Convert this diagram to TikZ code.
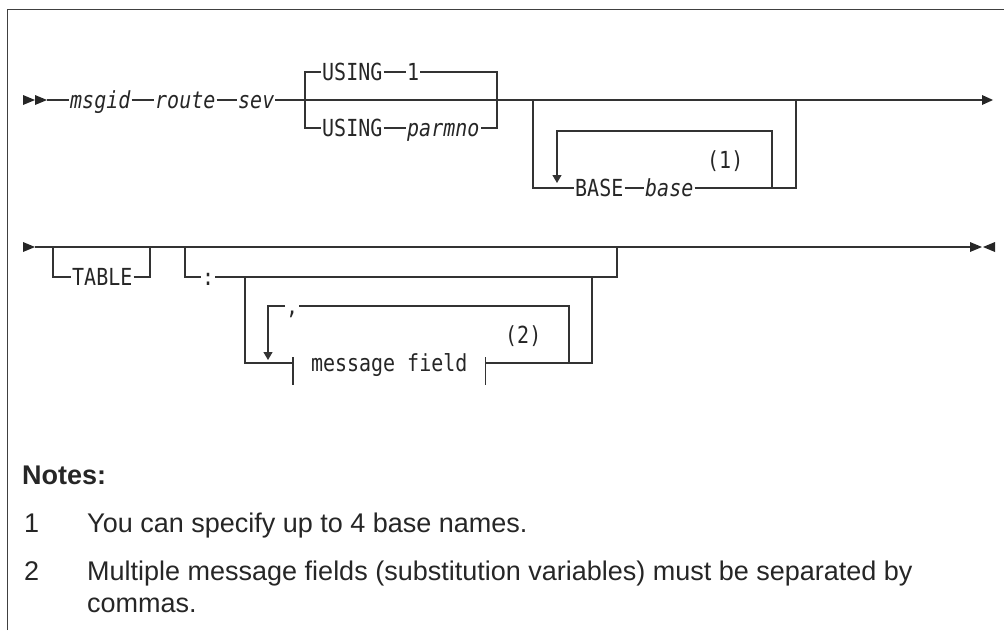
\documentclass[tikz,border=0pt]{standalone}
\usepackage{fontspec}
\setmainfont{Liberation Sans}
\setmonofont{DejaVu Sans Mono}[FakeStretch=0.85]
\usetikzlibrary{arrows.meta, positioning}

\begin{document}
\begin{tikzpicture}[x=1pt, y=-1pt, >={Triangle[length=8pt,width=9pt]}]
    \tikzset{
        rail/.style={line width=1.15pt, draw=black!80},
        tip/.style={fill=black!85},
        kw/.style={font=\ttfamily\fontsize{23.5}{23.5}\selectfont, text=black!85,
                   inner sep=1pt, text height=16.5pt, text depth=0pt, anchor=west},
        var/.style={kw, font=\ttfamily\itshape\fontsize{23.5}{23.5}\selectfont},
        note/.style={font=\fontsize{27}{32}\selectfont, text=black!85,
                     inner sep=0pt, anchor=base west}
    }
    \useasboundingbox (0,0) rectangle (1004,630);
    % frame (top and left only)
    \draw[line width=1pt, black!75] (7,630) -- (7,9) -- (1004,9);

    % first line
    \coordinate (s1) at (23,100);
    \coordinate (s1e) at (47,100);
    \coordinate (e1) at (982,100);
    \fill[tip] (s1) ++(0,-5) -- ++(12,5) -- ++(-12,5) -- cycle
               (s1) ++(12,-5) -- ++(12,5) -- ++(-12,5) -- cycle;
    \fill[tip] (e1) ++(0,-5) -- ++(11,5) -- ++(-11,5) -- cycle;
    \node[var] (msgid) at (69,100) {msgid};
    \node[var] (route) at (154,100) {route};
    \node[var] (sev) at (237,100) {sev};
    \draw[rail] (s1e) -- (msgid);
    \draw[rail] (msgid) -- (route);
    \draw[rail] (route) -- (sev);
    \draw[rail] (sev) -- (e1);

    % USING choice
    \coordinate (fork) at (305,100);
    \coordinate (join) at (497,100);
    \node[kw] (usingA) at (321,72) {USING};
    \node[kw] (one) at (406,72) {1};
    \node[kw] (usingB) at (321,128) {USING};
    \node[var] (parmno) at (406,128) {parmno};
    \draw[rail] (usingA.west) -| (fork) |- (usingB.west);
    \draw[rail] (usingA) -- (one);
    \draw[rail] (usingB) -- (parmno);
    \draw[rail] (one.east) -| (join) |- (parmno.east);

    % BASE, repeatable
    \coordinate (baseL) at (533,100);
    \coordinate (baseR) at (796,100);
    \coordinate (loopR) at (772,188);
    \coordinate (loopT) at (557,131);
    \coordinate (loopB) at (557,183);
    \node[kw] (basekw) at (574,188) {BASE};
    \node[var] (basevar) at (644,188) {base};
    \node[kw] (ref1) at (706,160) {(1)};
    \draw[rail] (baseL) |- (basekw.west);
    \draw[rail] (basekw) -- (basevar);
    \draw[rail] (basevar.east) -| (baseR);
    \draw[rail, ->] (loopR) |- (loopT) -- (loopB);

    % second line
    \coordinate (s2) at (23,247);
    \coordinate (s2e) at (35,247);
    \coordinate (e2) at (970,247);
    \fill[tip] (s2) ++(0,-5) -- ++(12,5) -- ++(-12,5) -- cycle;
    \fill[tip] (e2) ++(0,-5) -- ++(12,5) -- ++(-12,5) -- cycle
               (e2) ++(25,-5) -- ++(-12,5) -- ++(12,5) -- cycle;
    \draw[rail] (s2e) -- (e2);

    % TABLE
    \coordinate (tabL) at (53,247);
    \coordinate (tabR) at (150,247);
    \node[kw] (table) at (71,277) {TABLE};
    \draw[rail] (tabL) |- (table.west);
    \draw[rail] (table.east) -| (tabR);

    % colon and message fields
    \coordinate (colL) at (185,247);
    \coordinate (colR) at (617,247);
    \node[kw] (colon) at (201,277) {:};
    \draw[rail] (colL) |- (colon.west);
    \draw[rail] (colon.east) -| (colR);

    \coordinate (mfL) at (245,277);
    \coordinate (mfR) at (592,277);
    \coordinate (comR) at (569,363);
    \coordinate (comB) at (268,360);
    \node[kw, minimum width=192pt, inner xsep=0pt] (field) at (293,363) {message field};
    \node[kw] (comma) at (285,306) {,};
    \node[kw] (ref2) at (504,335) {(2)};
    \draw[rail] (mfL) |- (field.west);
    \draw[rail] (field.east) -| (mfR);
    \draw[rail] ([yshift=6pt]field.west) -- ([yshift=-22pt]field.west);
    \draw[rail] ([yshift=6pt]field.east) -- ([yshift=-22pt]field.east);
    \draw[rail] (comR) |- (comma.east);
    \draw[rail, ->] (comma.west) -| (comB);

    % notes
    \node[note, font=\bfseries\fontsize{27}{32}\selectfont] (notes) at (22,484) {Notes:};
    \node[note] (n1) at (24,532) {1};
    \node[note] (t1) at (87,532) {You can specify up to 4 base names.};
    \node[note] (n2) at (24,580) {2};
    \node[note] (t2) at (87,580) {Multiple message fields (substitution variables) must be separated by};
    \node[note] (t2b) at (87,612) {commas.};
\end{tikzpicture}
\end{document}
